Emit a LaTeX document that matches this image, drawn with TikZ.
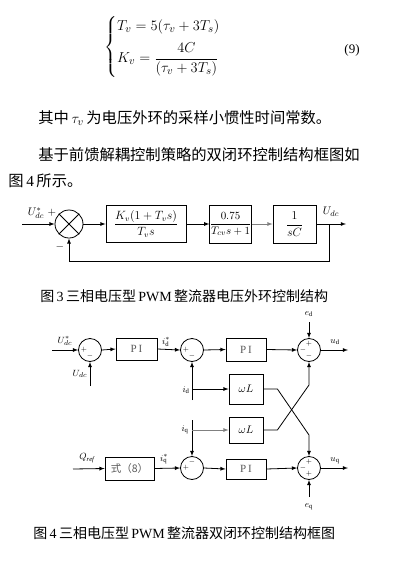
\documentclass[tikz,border=0pt]{standalone}
\usepackage{amsmath}
\usepackage{fontspec}
\setmainfont{Liberation Serif}
\newfontfamily\cjk{Noto Sans CJK SC}
\newcommand{\zh}[1]{{\cjk #1}}
\newcommand{\sz}[1]{\fontsize{#1}{#1}\selectfont}
\newcommand{\sgnat}[4]{\node[sgn] (#1) at ([xshift=#2pt,yshift=#3pt]#1c.center) {#4}}
\tikzset{
	blk/.style={draw, line width=0.8pt, inner sep=0pt},
	sumc/.style={draw, circle, line width=0.8pt, minimum size=23pt, inner sep=0pt},
	lbl/.style={inner sep=0pt, font=\sz{9.5}},
	sgn/.style={inner sep=0pt, font=\sz{7}},
	txt/.style={inner sep=0pt, anchor=west},
}

\begin{document}
\begin{tikzpicture}[x=1pt, y=-1pt, line width=0.8pt]
	\useasboundingbox (0,0) rectangle (406,563);
	% formula and body text
	\node[txt, font=\sz{15}] (eq9) at (104,47) {$\begin{cases} T_v = 5(\tau_v + 3T_s)\\[7pt] K_v = \dfrac{4C}{(\tau_v + 3T_s)}\end{cases}$};
	\node[inner sep=0pt, font=\sz{13}] (eqno) at (352,50) {(9)};
	\node[txt, font=\sz{15.3}] (line1) at (38,118) {\zh{其中}\,$\tau_v$\,\zh{为电压外环的采样小惯性时间常数。}};
	\node[txt, font=\sz{15.3}] (line2) at (38,155) {\zh{基于前馈解耦控制策略的双闭环控制结构框图如}};
	\node[txt, font=\sz{15.3}] (line3) at (8,181) {\zh{图}\,4\,\zh{所示。}};

	% figure 3
	\node[sumc, minimum size=28pt] (s0) at (69,224) {};
	\draw (s0.north west) -- (s0.south east);
	\draw (s0.north east) -- (s0.south west);
	\node[blk, minimum width=80pt, minimum height=37pt, font=\sz{11.5}] (b1) at (146,224) {$\dfrac{K_v(1+T_v s)}{T_v s}$};
	\node[blk, minimum width=41pt, minimum height=38pt, font=\sz{11}] (b2) at (230.5,224) {$\dfrac{0.75}{T_{cv}s+1}$};
	\node[blk, minimum width=43pt, minimum height=38pt, font=\sz{11.5}] (b3) at (294.5,224) {$\dfrac{1}{sC}$};
	\coordinate (in0) at (22,224);
	\coordinate (br0) at (329,224);
	\coordinate (out0) at (346,224);
	\coordinate (fb0) at (329,261);
	\draw[-latex] (in0) -- (s0.west);
	\draw[-latex] (s0.east) -- (b1.west);
	\draw[-latex] (b1.east) -- (b2.west);
	\draw[-latex, gray] (b2.east) -- (b3.west);
	\draw[-latex] (b3.east) -- (out0);
	\draw[-latex] (br0) -- (fb0) -| (s0.south);
	\node[lbl, font=\sz{11}] (uref0) at (36,213) {$U_{dc}^{*}$};
	\node[lbl, font=\sz{11}] (plus0) at (52,213) {$+$};
	\node[lbl, font=\sz{11}] (minus0) at (60,247) {$-$};
	\node[lbl, font=\sz{11}] (udc0) at (331,212) {$U_{dc}$};
	\node[txt, font=\sz{14}] (cap3) at (40,296) {\zh{图}\,3\,\zh{三相电压型}\,PWM\,\zh{整流器电压外环控制结构}};

	% figure 4
	\node[sumc] (s1c) at (90,350) {};
	\node[sumc] (s2c) at (192,350) {};
	\node[sumc] (s3c) at (309,350) {};
	\node[sumc] (s4c) at (309,468) {};
	\node[sumc] (s5c) at (192,468) {};
	\node[blk, minimum width=41pt, minimum height=22pt, text=gray!70!black, font=\sz{11}] (pi1) at (136.5,349) {P\,I};
	\node[blk, minimum width=40pt, minimum height=23pt, text=gray!70!black, font=\sz{11}] (pi2) at (246,349.5) {P\,I};
	\node[blk, minimum width=40pt, minimum height=20pt, text=gray!70!black, font=\sz{11}] (pi3) at (246,469) {P\,I};
	\node[blk, minimum width=34pt, minimum height=30pt, font=\sz{10.5}] (wl1) at (246,389) {$\omega L$};
	\node[blk, minimum width=34pt, minimum height=26pt, font=\sz{10.5}] (wl2) at (246,430) {$\omega L$};
	\node[blk, minimum width=49pt, minimum height=23pt, font=\sz{10.5}, text=gray!70!black] (eq8) at (129.5,468.5) {\zh{式（8）}};

	\sgnat{s1}{-6}{0}{$+$};
	\sgnat{s2}{-6}{0}{$+$};
	\node[sgn] (s1m) at ([yshift=-6pt]s1c.center) {$-$};
	\node[sgn] (s2m) at ([yshift=-6pt]s2c.center) {$-$};
	\node[sgn] (s3p) at ([yshift=6pt]s3c.center) {$+$};
	\node[sgn] (s3l) at ([xshift=-6pt]s3c.center) {$-$};
	\node[sgn] (s3m) at ([yshift=-6pt]s3c.center) {$-$};
	\node[sgn] (s4p) at ([yshift=6pt]s4c.center) {$+$};
	\node[sgn] (s4l) at ([xshift=-6pt]s4c.center) {$-$};
	\node[sgn] (s4b) at ([yshift=-6pt]s4c.center) {$+$};
	\node[sgn] (s5p) at ([xshift=-6pt]s5c.center) {$+$};
	\node[sgn] (s5m) at ([yshift=6pt]s5c.center) {$-$};

	\coordinate (udin) at (52,350);
	\coordinate (udcb) at (90,386);
	\coordinate (edt) at (309,322);
	\coordinate (udout) at (348,350);
	\coordinate (idb) at (192,400);
	\coordinate (idj) at (192,389);
	\coordinate (iqt) at (192,420);
	\coordinate (iqj) at (192,430);
	\coordinate (x1) at (309,435);
	\coordinate (x2) at (309,385);
	\coordinate (qin) at (73,469);
	\coordinate (eqb) at (309,497);
	\coordinate (uqout) at (348,468);

	\draw[-latex] (udin) -- (s1c.west);
	\draw[-latex] (udcb) -- (s1c.south);
	\draw[-latex] (s1c.east) -- (pi1.west);
	\draw[-latex] (pi1.east) -- (s2c.west);
	\draw[-latex] (s2c.east) -- (pi2.west);
	\draw[-latex] (pi2.east) -- (s3c.west);
	\draw[-latex] (edt) -- (s3c.north);
	\draw[-latex] (s3c.east) -- (udout);
	\draw[-latex] (idb) -- (s2c.south);
	\draw[-latex] (idj) -- (wl1.west);
	\draw[-latex] (iqt) -- (s5c.north);
	\draw[-latex, gray] (iqj) -- (wl2.west);
	\draw[-latex] (wl1.east) -- ++(14,0) -- (x1) -- (s4c.north);
	\draw[-latex] (wl2.east) -- ++(14,0) -- (x2) -- (s3c.south);
	\draw[-latex] (qin) -- (eq8.west);
	\draw[-latex] (eq8.east) -- (s5c.west);
	\draw[-latex] (s5c.east) -- (pi3.west);
	\draw[-latex] (pi3.east) -- (s4c.west);
	\draw[-latex] (eqb) -- (s4c.south);
	\draw[-latex] (s4c.east) -- (uqout);

	\node[lbl] (uref1) at (65,341) {$U_{dc}^{*}$};
	\node[lbl] (udc1) at (80,374) {$U_{dc}$};
	\node[lbl] (idref) at (166,342) {$i_{\mathrm{d}}^{*}$};
	\node[lbl] (idl) at (186,390) {$i_{\mathrm{d}}$};
	\node[lbl] (iql) at (185,430) {$i_{\mathrm{q}}$};
	\node[lbl] (edl) at (309,314) {$e_{\mathrm{d}}$};
	\node[lbl] (udl) at (335,342) {$u_{\mathrm{d}}$};
	\node[lbl] (qref) at (87,458) {$Q_{\mathit{ref}}$};
	\node[lbl] (iqref) at (164,459) {$i_{\mathrm{q}}^{*}$};
	\node[lbl] (uql) at (335,461) {$u_{\mathrm{q}}$};
	\node[lbl] (eql) at (309,507) {$e_{\mathrm{q}}$};
	\node[txt, font=\sz{14}] (cap4) at (33,533) {\zh{图}\,4\,\zh{三相电压型}\,PWM\,\zh{整流器双闭环控制结构框图}};
\end{tikzpicture}
\end{document}
